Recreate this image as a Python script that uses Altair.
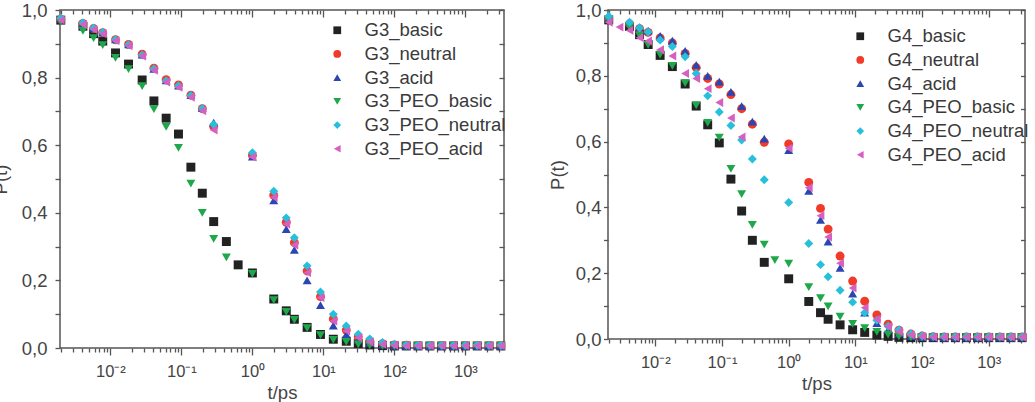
import altair as alt
import pandas as pd

# ---------------- data ----------------
SERIES_G3 = ["G3_basic", "G3_neutral", "G3_acid", "G3_PEO_basic", "G3_PEO_neutral", "G3_PEO_acid"]
SERIES_G4 = ["G4_basic", "G4_neutral", "G4_acid", "G4_PEO_basic", "G4_PEO_neutral", "G4_PEO_acid"]

T_EARLY = [0.002, 0.0041, 0.0058, 0.0078, 0.0118, 0.018, 0.028, 0.041, 0.061, 0.091, 0.136, 0.197, 0.285]
T_LATE = [1.0, 2.0, 3.0, 3.9, 5.9, 9.1, 13.8, 21, 31, 45, 68, 100, 147, 215, 316, 464, 681, 1000, 1468, 2154, 3162]
T_G4_PEO_ACID_EARLY = [0.002, 0.0029, 0.0041, 0.0058, 0.0078, 0.0118, 0.018, 0.028, 0.041, 0.061, 0.091, 0.136, 0.197]

# G3 panel
G3_basic_t = T_EARLY + [0.43, 0.63] + T_LATE
G3_basic_p = [0.970, 0.952, 0.930, 0.908, 0.873, 0.840, 0.793, 0.731, 0.680, 0.633, 0.535, 0.458, 0.374,
              0.315, 0.246,
              0.222, 0.145, 0.110, 0.085, 0.061, 0.040, 0.026, 0.020, 0.013, 0.009, 0.007, 0.006, 0.006,
              0.006, 0.006, 0.006, 0.006, 0.006, 0.006, 0.006, 0.006]
G3_neutral_t = T_EARLY + T_LATE
G3_neutral_p = [0.973, 0.960, 0.945, 0.933, 0.912, 0.898, 0.869, 0.828, 0.794, 0.778, 0.748, 0.708, 0.655,
                0.570, 0.452, 0.372, 0.312, 0.228, 0.152, 0.086, 0.053, 0.033, 0.021, 0.013, 0.009, 0.008,
                0.007, 0.007, 0.007, 0.007, 0.007, 0.007, 0.007, 0.007]
G3_acid_t = T_EARLY + T_LATE
G3_acid_p = [0.975, 0.961, 0.946, 0.934, 0.913, 0.898, 0.868, 0.826, 0.792, 0.776, 0.748, 0.710, 0.667,
             0.566, 0.437, 0.352, 0.290, 0.200, 0.127, 0.066, 0.040, 0.025, 0.015, 0.010, 0.007, 0.006,
             0.006, 0.006, 0.006, 0.006, 0.006, 0.006, 0.006, 0.006]
G3_PEO_basic_t = T_EARLY + [0.43] + T_LATE
G3_PEO_basic_p = [0.965, 0.938, 0.917, 0.896, 0.858, 0.825, 0.775, 0.707, 0.654, 0.592, 0.486, 0.400, 0.323,
                  0.268,
                  0.219, 0.142, 0.107, 0.083, 0.059, 0.038, 0.024, 0.018, 0.011, 0.008, 0.006, 0.006, 0.006,
                  0.006, 0.006, 0.006, 0.006, 0.006, 0.006, 0.006, 0.006]
G3_PEO_neutral_t = T_EARLY + T_LATE
G3_PEO_neutral_p = [0.976, 0.962, 0.947, 0.934, 0.913, 0.897, 0.867, 0.826, 0.791, 0.776, 0.747, 0.709, 0.661,
                    0.578, 0.464, 0.385, 0.326, 0.243, 0.166, 0.100, 0.065, 0.041, 0.027, 0.016, 0.011, 0.009,
                    0.008, 0.008, 0.008, 0.008, 0.008, 0.008, 0.008, 0.008]
G3_PEO_acid_t = T_EARLY + T_LATE
G3_PEO_acid_p = [0.970, 0.957, 0.942, 0.930, 0.909, 0.894, 0.864, 0.822, 0.787, 0.771, 0.742, 0.702, 0.645,
                 0.565, 0.445, 0.367, 0.305, 0.223, 0.149, 0.080, 0.050, 0.030, 0.018, 0.011, 0.008, 0.007,
                 0.007, 0.007, 0.007, 0.007, 0.007, 0.007, 0.007, 0.007]

# G4 panel
G4_basic_t = T_EARLY + [0.43] + T_LATE
G4_basic_p = [0.970, 0.950, 0.925, 0.895, 0.862, 0.828, 0.775, 0.708, 0.651, 0.596, 0.486, 0.389, 0.300,
              0.233,
              0.183, 0.114, 0.080, 0.060, 0.043, 0.028, 0.020, 0.012, 0.008, 0.005, 0.004, 0.004, 0.004,
              0.004, 0.004, 0.004, 0.004, 0.004, 0.004, 0.004, 0.004]
G4_neutral_t = T_EARLY + [0.43] + T_LATE
G4_neutral_p = [0.972, 0.958, 0.943, 0.932, 0.915, 0.900, 0.868, 0.825, 0.792, 0.775, 0.743, 0.700, 0.653,
                0.598,
                0.593, 0.476, 0.397, 0.334, 0.252, 0.176, 0.115, 0.073, 0.045, 0.027, 0.015, 0.009, 0.007,
                0.006, 0.006, 0.006, 0.006, 0.006, 0.006, 0.006, 0.006]
G4_acid_t = T_EARLY + [0.43] + T_LATE
G4_acid_p = [0.975, 0.962, 0.948, 0.937, 0.921, 0.907, 0.876, 0.833, 0.800, 0.782, 0.751, 0.708, 0.661,
             0.609,
             0.574, 0.450, 0.362, 0.296, 0.216, 0.138, 0.080, 0.048, 0.028, 0.016, 0.009, 0.006, 0.005,
             0.005, 0.005, 0.005, 0.005, 0.005, 0.005, 0.005, 0.005]
G4_PEO_basic_t = T_EARLY + [0.43, 0.62] + T_LATE
G4_PEO_basic_p = [0.968, 0.948, 0.922, 0.894, 0.864, 0.830, 0.778, 0.710, 0.657, 0.612, 0.517, 0.440, 0.347,
                  0.287, 0.240,
                  0.229, 0.158, 0.124, 0.099, 0.068, 0.046, 0.033, 0.022, 0.013, 0.008, 0.005, 0.005, 0.005,
                  0.005, 0.005, 0.005, 0.005, 0.005, 0.005, 0.005, 0.005]
G4_PEO_neutral_t = T_EARLY + [0.43] + T_LATE
G4_PEO_neutral_p = [0.981, 0.963, 0.945, 0.933, 0.909, 0.889, 0.858, 0.807, 0.739, 0.690, 0.649, 0.605, 0.547,
                    0.484,
                    0.415, 0.290, 0.226, 0.189, 0.148, 0.112, 0.080, 0.057, 0.039, 0.028, 0.016, 0.010, 0.008,
                    0.007, 0.007, 0.007, 0.007, 0.007, 0.007, 0.007, 0.007]
G4_PEO_acid_t = T_G4_PEO_ACID_EARLY + T_LATE
G4_PEO_acid_p = [0.963, 0.948, 0.938, 0.916, 0.906, 0.879, 0.860, 0.807, 0.792, 0.761, 0.719, 0.672, 0.614,
                 0.580, 0.460, 0.375, 0.310, 0.230, 0.155, 0.095, 0.060, 0.037, 0.022, 0.012, 0.008, 0.006,
                 0.006, 0.006, 0.006, 0.006, 0.006, 0.006, 0.006, 0.006]

Y_TICKS = [0.0, 0.1, 0.2, 0.3, 0.4, 0.5, 0.6, 0.7, 0.8, 0.9, 1.0]
X_TICKS = [k * 10.0 ** e for e in range(-3, 4) for k in range(1, 10) if 0.002 <= k * 10.0 ** e <= 3500]

# ---------------- styling ----------------
SHAPES = ["square", "circle", "triangle-up", "triangle-down", "diamond", "triangle-left"]
COLORS = ["#222222", "#f03b2b", "#2a46b0", "#1fa84b", "#27bfdc", "#d65fc2"]
FONT = "Liberation Sans"
AX = "#555555"
TXT = "#444444"

MAJ = "abs(log(datum.value)/LN10 - round(log(datum.value)/LN10)) < 0.0001"
EXP = "toString(round(log(datum.value)/LN10))"
X_LABEL = (f"{MAJ} ? '10' + replace(replace(replace(replace(replace({EXP}, '-', '\u207b'), '0', '\u2070'),"
           " '1', '\u00b9'), '2', '\u00b2'), '3', '\u00b3') : ''")
Y_LABEL = "(round(datum.value*10) % 2 == 0) ? replace(format(datum.value, '.1f'), '.', ',') : ''"


def make_df(names, ts_list, ps_list):
    rows = []
    for name, ts, ps in zip(names, ts_list, ps_list):
        assert len(ts) == len(ps), name
        for t, p in zip(ts, ps):
            rows.append({"series": name, "t": t, "P": p})
    return pd.DataFrame(rows)


def panel(df, names, W, H, lx, ly, row_pad, ylab_pad, ytitle_pad, ytick):
    xs = alt.Scale(type="log", domain=[0.00195, 3500], nice=False)
    ys = alt.Scale(domain=[0, 1], nice=False, zero=False)
    tick_cond = {"condition": {"test": MAJ, "value": 7}, "value": 4}
    leg = alt.Legend(orient="none", legendX=lx, legendY=ly, title=None, labelFont=FONT,
                     labelFontSize=18.5, labelColor="#3a3a3a", symbolSize=60, symbolStrokeWidth=0,
                     rowPadding=row_pad, labelOffset=18, padding=0)
    base = alt.Chart(df)
    pts = base.mark_point(filled=True, opacity=1, size=80, strokeWidth=0, clip=False).encode(
        x=alt.X("t:Q", scale=xs, axis=alt.Axis(
            orient="bottom", values=X_TICKS, labelExpr=X_LABEL, tickSize=tick_cond, tickColor=AX,
            tickWidth=1.3, domain=False, grid=False, labelFont=FONT, labelFontSize=16.5, labelColor=TXT,
            labelPadding=8, labelOverlap=False, labelFlush=False, title="t/ps", titleFont=FONT,
            titleFontSize=18.5, titleFontWeight="normal", titleColor=TXT, titlePadding=4)),
        y=alt.Y("P:Q", scale=ys, axis=alt.Axis(
            orient="left", values=Y_TICKS, labelExpr=Y_LABEL, tickSize=ytick, tickColor=AX,
            tickWidth=1.3, domain=False, grid=False, labelFont=FONT, labelFontSize=18.5, labelColor=TXT,
            labelPadding=ylab_pad, labelOverlap=False, labelFlush=False, title="P(t)", titleFont=FONT,
            titleFontSize=18.5, titleFontWeight="normal", titleColor=TXT, titlePadding=ytitle_pad)),
        color=alt.Color("series:N", scale=alt.Scale(domain=names, range=COLORS), legend=leg, sort=names),
        shape=alt.Shape("series:N", scale=alt.Scale(domain=names, range=SHAPES), legend=leg, sort=names),
    )
    mirror = base.mark_point(opacity=0).encode(
        x=alt.X("t:Q", scale=xs, axis=alt.Axis(
            orient="bottom", offset=-H, values=X_TICKS, labels=False, tickSize=tick_cond, tickColor=AX,
            tickWidth=1.3, domain=False, grid=False, title=None)),
        y=alt.Y("P:Q", scale=ys, axis=alt.Axis(
            orient="left", offset=-W, values=Y_TICKS, labels=False, tickSize=ytick, tickColor=AX,
            tickWidth=1.3, domain=False, grid=False, title=None)),
    )
    return alt.layer(pts, mirror).resolve_axis(x="independent", y="independent").properties(width=W, height=H)


df3 = make_df(SERIES_G3,
              [G3_basic_t, G3_neutral_t, G3_acid_t, G3_PEO_basic_t, G3_PEO_neutral_t, G3_PEO_acid_t],
              [G3_basic_p, G3_neutral_p, G3_acid_p, G3_PEO_basic_p, G3_PEO_neutral_p, G3_PEO_acid_p])
df4 = make_df(SERIES_G4,
              [G4_basic_t, G4_neutral_t, G4_acid_t, G4_PEO_basic_t, G4_PEO_neutral_t, G4_PEO_acid_t],
              [G4_basic_p, G4_neutral_p, G4_acid_p, G4_PEO_basic_p, G4_PEO_neutral_p, G4_PEO_acid_p])

left = panel(df3, SERIES_G3, 444, 338, 268, 11, 4.7, 8, 11, 5)
right = panel(df4, SERIES_G4, 417, 329, 243, 17, 4.7, 2.5, 8, 4.5)

chart = alt.hconcat(left, right, spacing=104, bounds="flush").resolve_scale(
    color="independent", shape="independent").resolve_legend(
    color="independent", shape="independent").configure_view(
    stroke=AX, strokeWidth=1.5).properties(
    padding={"left": -10, "top": 0, "right": 0, "bottom": 0}, background="white")

chart.save("out.html", embed_options={"renderer": "svg", "actions": False})
